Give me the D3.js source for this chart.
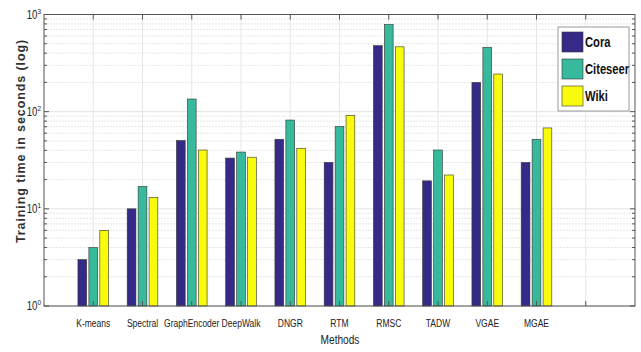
<!DOCTYPE html>
<html><head><meta charset="utf-8">
<script src="https://cdn.jsdelivr.net/npm/d3@7/dist/d3.min.js"></script>
<style>body{margin:0;background:#fff}svg{display:block}</style>
</head><body><svg id="c" width="641" height="352"></svg>
<script>
const categories = ["K-means","Spectral","GraphEncoder","DeepWalk","DNGR","RTM","RMSC","TADW","VGAE","MGAE"];
const seriesNames = ["Cora","Citeseer","Wiki"];
const cora     = [3, 10, 50.5, 33.3, 52, 30, 478, 19.4, 200, 30];
const citeseer = [4, 17, 135, 38.4, 82, 70.5, 790, 40.3, 460, 52];
const wiki     = [6, 13.1, 40.3, 34, 42, 91.5, 465, 22.3, 244, 68];
const yTicks = [1, 10, 100, 1000];
const colors = ["#352a87", "#37b99c", "#f9fb0e"];
const series = [cora, citeseer, wiki];

const svg = d3.select("#c");
const L = 44, R = 635, T = 14.5, B = 306;
const x = d3.scaleLinear().domain([0, 12]).range([L, R]);
const y = d3.scaleLog().domain([1, 1000]).range([B, T]);
const font = "'Liberation Sans',Arial,sans-serif";

function ctext(px, py, anchor, sx) {
  return svg.append("g").attr("transform", `translate(${px},${py}) scale(${sx},1)`)
    .append("text").attr("text-anchor", anchor).attr("font-family", font);
}

// minor grid
const minor = [];
for (let d = 1; d < 1000; d *= 10) for (let k = 2; k <= 9; k++) minor.push(d * k);
svg.append("g").selectAll("line").data(minor).join("line")
  .attr("x1", L).attr("x2", R).attr("y1", d => y(d)).attr("y2", d => y(d))
  .attr("stroke", "#e6e6e6").attr("stroke-width", 1).attr("stroke-dasharray", "2,1");
// major grid
svg.append("g").selectAll("line").data(yTicks).join("line")
  .attr("x1", L).attr("x2", R).attr("y1", d => y(d)).attr("y2", d => y(d))
  .attr("stroke", "#e3e3e3").attr("stroke-width", 1);
// vertical grid
const xt = d3.range(1, 12);
svg.append("g").selectAll("line").data(xt).join("line")
  .attr("x1", d => x(d)).attr("x2", d => x(d)).attr("y1", T).attr("y2", B)
  .attr("stroke", "#e6e6e6").attr("stroke-width", 1);

// bars
const pitch = (x(1) - x(0)) * 0.2222;
const bw = pitch * 0.8;
series.forEach((s, i) => {
  svg.append("g").selectAll("rect").data(s).join("rect")
    .attr("x", (d, j) => x(j + 1) + (i - 1) * pitch - bw / 2)
    .attr("width", bw)
    .attr("y", d => y(d))
    .attr("height", d => B - y(d))
    .attr("fill", colors[i])
    .attr("stroke", "#333").attr("stroke-width", 0.6);
});

// axes box
const g = svg.append("g").attr("stroke", "#555").attr("stroke-width", 1).attr("fill", "none");
g.append("rect").attr("x", L).attr("y", T).attr("width", R - L).attr("height", B - T);
yTicks.forEach(d => {
  g.append("line").attr("x1", L).attr("x2", L + 5).attr("y1", y(d)).attr("y2", y(d));
  g.append("line").attr("x1", R).attr("x2", R - 5).attr("y1", y(d)).attr("y2", y(d));
});
minor.forEach(d => {
  g.append("line").attr("x1", L).attr("x2", L + 3).attr("y1", y(d)).attr("y2", y(d));
  g.append("line").attr("x1", R).attr("x2", R - 3).attr("y1", y(d)).attr("y2", y(d));
});
xt.forEach(d => {
  g.append("line").attr("x1", x(d)).attr("x2", x(d)).attr("y1", T).attr("y2", T + 5);
  g.append("line").attr("x1", x(d)).attr("x2", x(d)).attr("y1", B).attr("y2", B - 5);
});

// y tick labels
yTicks.forEach(d => {
  const t = ctext(L - 3, y(d) + 4, "end", 0.8).attr("font-size", 12).attr("fill", "#222");
  t.append("tspan").text("10");
  t.append("tspan").attr("dy", -5).attr("font-size", 8).text(Math.round(Math.log10(d)));
});
// x tick labels
categories.forEach((c, i) => {
  ctext(x(i + 1), 327, "middle", 0.74).attr("font-size", 11.5).attr("fill", "#222").text(c);
});
ctext(340, 344, "middle", 0.78).attr("font-size", 13).attr("fill", "#222").text("Methods");
svg.append("text").attr("transform", "translate(25,141) rotate(-90)").attr("text-anchor", "middle")
  .attr("font-family", font).attr("font-weight", "bold")
  .attr("font-size", 12.5).attr("letter-spacing", 0.9).attr("fill", "#333")
  .text("Training time in seconds (log)");

// legend
const lg = svg.append("g");
lg.append("rect").attr("x", 558).attr("y", 27).attr("width", 71).attr("height", 84)
  .attr("fill", "#fff").attr("stroke", "#999").attr("stroke-width", 1);
seriesNames.forEach((n, i) => {
  const yy = 32 + i * 27;
  lg.append("rect").attr("x", 562).attr("y", yy).attr("width", 21).attr("height", 20)
    .attr("fill", colors[i]).attr("stroke", "#333").attr("stroke-width", 0.6);
  ctext(585, yy + 15, "start", 0.8).attr("font-weight", "bold").attr("font-size", 14).attr("fill", "#111").text(n);
});
</script></body></html>
